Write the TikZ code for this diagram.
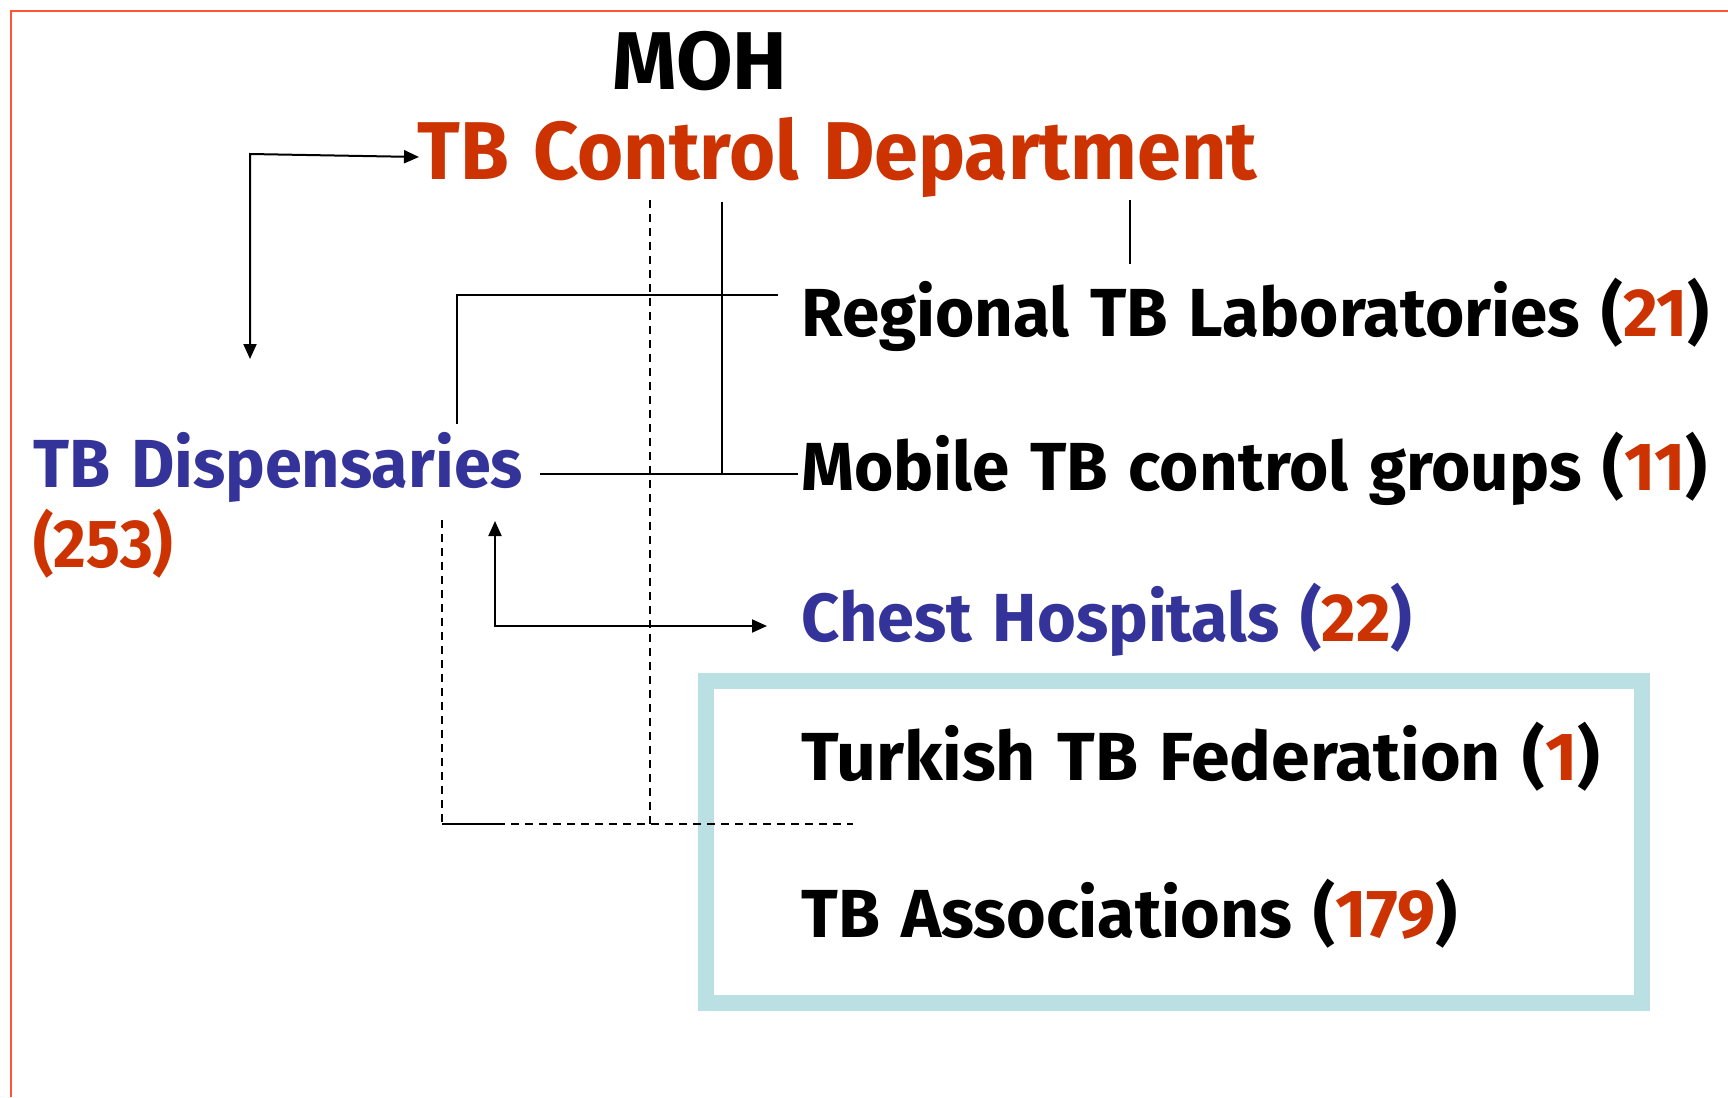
\documentclass[tikz,border=0pt]{standalone}
\usepackage{fontspec}
\setmainfont[WordSpace=1.3]{Fira Sans}
\usetikzlibrary{arrows.meta}
\definecolor{tbred}{HTML}{CC3300}
\definecolor{tbblue}{HTML}{333399}
\definecolor{frameline}{HTML}{FF5533}
\definecolor{boxcyan}{HTML}{BBE0E3}
\tikzset{
  lbl/.style={inner sep=0pt, anchor=base west, font=\bfseries\fontsize{34}{40}\selectfont},
  title/.style={inner sep=0pt, anchor=base west, font=\bfseries\fontsize{41}{48}\selectfont},
  conn/.style={line width=1pt, black},
  thinconn/.style={line width=0.6pt, black},
  dashconn/.style={line width=1pt, black, dash pattern=on 4pt off 3pt},
  bothtips/.style={{Triangle[length=7.5pt,width=6.5pt]}-{Triangle[length=7.5pt,width=6.5pt]}},
}
\begin{document}
\begin{tikzpicture}[x=0.5pt,y=-0.5pt]
\useasboundingbox (0,0) rectangle (1728,1097);
% frame
\draw[frameline, line width=1.3pt] (11,1097) -- (11,11) -- (1728,11);
% cyan box
\draw[boxcyan, line width=8pt] (706,681) rectangle (1642,1003);
% texts
\node[title] (moh) at (612,90) {MOH};
\node[title, text=tbred] (dept) at (417,179) {\scalebox{0.965}[1]{TB Control Department}};
\node[lbl] (lab) at (801,336) {\scalebox{0.99}[1]{Regional TB Laboratories (\textcolor{tbred}{21})}};
\node[lbl] (mob) at (801,490) {\scalebox{0.99}[1]{Mobile TB control groups (\textcolor{tbred}{11})}};
\node[lbl, text=tbblue] (disp) at (33,487) {\scalebox{0.98}[1]{TB Dispensaries}};
\node[lbl, text=tbred] (dispn) at (33,567) {\scalebox{0.93}[1]{(253)}};
\node[lbl, text=tbblue] (chest) at (801,641) {\scalebox{0.98}[1]{Chest Hospitals (\textcolor{tbred}{22})}};
\node[lbl] (fed) at (801,780) {\scalebox{1.025}[1]{Turkish TB Federation (\textcolor{tbred}{1})}};
\node[lbl] (assoc) at (801,937) {TB Associations (\textcolor{tbred}{179})};
% coordinates
\coordinate (a1) at (250,359);
\coordinate (a2) at (250,154);
\coordinate (a3) at (419,157);
\coordinate (dv1) at (650,200);
\coordinate (dv2) at (650,824);
\coordinate (sv1) at (722,202);
\coordinate (sv2) at (722,474);
\coordinate (dp1) at (1130,200);
\coordinate (dp2) at (1130,264);
\coordinate (r1) at (457,424);
\coordinate (r2) at (457,295);
\coordinate (r3) at (778,295);
\coordinate (m1) at (540,474);
\coordinate (m2) at (798,474);
\coordinate (c1) at (495,521);
\coordinate (c2) at (495,626);
\coordinate (c3) at (767,626);
\coordinate (l1) at (442,520);
\coordinate (l2) at (442,824);
\coordinate (l3) at (497,824);
\coordinate (l4) at (853,824);
% connectors
\draw[conn, bothtips] (a1) -- (a2) -- (a3);
\draw[dashconn] (dv1) -- (dv2);
\draw[conn] (sv1) -- (sv2);
\draw[thinconn] (dp1) -- (dp2);
\draw[conn] (r1) -- (r2) -- (r3);
\draw[conn] (m1) -- (m2);
\draw[conn, bothtips] (c1) -- (c2) -- (c3);
\draw[dashconn] (l1) -- (l2);
\draw[conn] (l2) -- (l3);
\draw[dashconn] (l3) -- (l4);
\end{tikzpicture}
\end{document}
